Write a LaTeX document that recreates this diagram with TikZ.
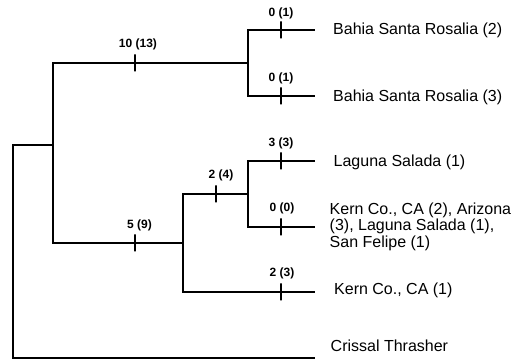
\documentclass[tikz,border=0pt]{standalone}
\usepackage{fontspec}
\setmainfont{Liberation Sans}
\begin{document}
\begin{tikzpicture}[x=1pt,y=1pt,
  branch/.style={line width=1.5pt, line cap=rect},
  tickmark/.style={draw, line width=1.5pt, inner sep=0pt, minimum width=0pt, minimum height=17pt},
  steplabel/.style={font=\fontsize{12}{14}\selectfont\bfseries, inner sep=0pt},
  leaf/.style={font=\fontsize{16}{16.3}\selectfont, anchor=base west, inner sep=0pt, align=left}]
\useasboundingbox (0,0) rectangle (521,363);
% internal nodes
\coordinate (R) at (13,218);
\coordinate (A) at (53,218);
\coordinate (B) at (248,300);
\coordinate (C) at (183,120);
\coordinate (D) at (248,169);
% leaf line ends
\coordinate (e1) at (314,333);
\coordinate (e2) at (314,267);
\coordinate (e3) at (314,202);
\coordinate (e4) at (314,136);
\coordinate (e5) at (314,71);
\coordinate (e6) at (314,5);
% branches
\draw[branch] (R) -- (A);
\draw[branch] (R) |- (e6);
\draw[branch] (A) |- (B);
\draw[branch] (A) |- (C);
\draw[branch] (B) |- (e1);
\draw[branch] (B) |- (e2);
\draw[branch] (C) |- (D);
\draw[branch] (C) |- (e5);
\draw[branch] (D) |- (e3);
\draw[branch] (D) |- (e4);
% ticks
\node[tickmark] (t1) at (135,300) {};
\node[tickmark] (t2) at (281,333) {};
\node[tickmark] (t3) at (281,267) {};
\node[tickmark] (t4) at (135,120) {};
\node[tickmark] (t5) at (216,169) {};
\node[tickmark] (t6) at (281,202) {};
\node[tickmark] (t7) at (281,136) {};
\node[tickmark] (t8) at (281,71) {};
% tick labels
\node[steplabel] (s1) at (138,318.5) {10 (13)};
\node[steplabel] (s2) at (281,350) {0 (1)};
\node[steplabel] (s3) at (281,285) {0 (1)};
\node[steplabel] (s4) at (139.5,138) {5 (9)};
\node[steplabel] (s5) at (221,187.5) {2 (4)};
\node[steplabel] (s6) at (281,220) {3 (3)};
\node[steplabel] (s7) at (282,155) {0 (0)};
\node[steplabel] (s8) at (282,90) {2 (3)};
% leaves
\node[leaf] (l1) at (333,328.5) {Bahia Santa Rosalia (2)};
\node[leaf] (l2) at (333,261.5) {Bahia Santa Rosalia (3)};
\node[leaf] (l3) at (333.5,196) {Laguna Salada (1)};
\node[leaf] (l4) at (329.5,115.7) {Kern Co., CA (2), Arizona\\(3), Laguna Salada (1),\\San Felipe (1)};
\node[leaf] (l5) at (334,68) {Kern Co., CA (1)};
\node[leaf] (l6) at (330.5,11.3) {Crissal Thrasher};
\end{tikzpicture}
\end{document}
